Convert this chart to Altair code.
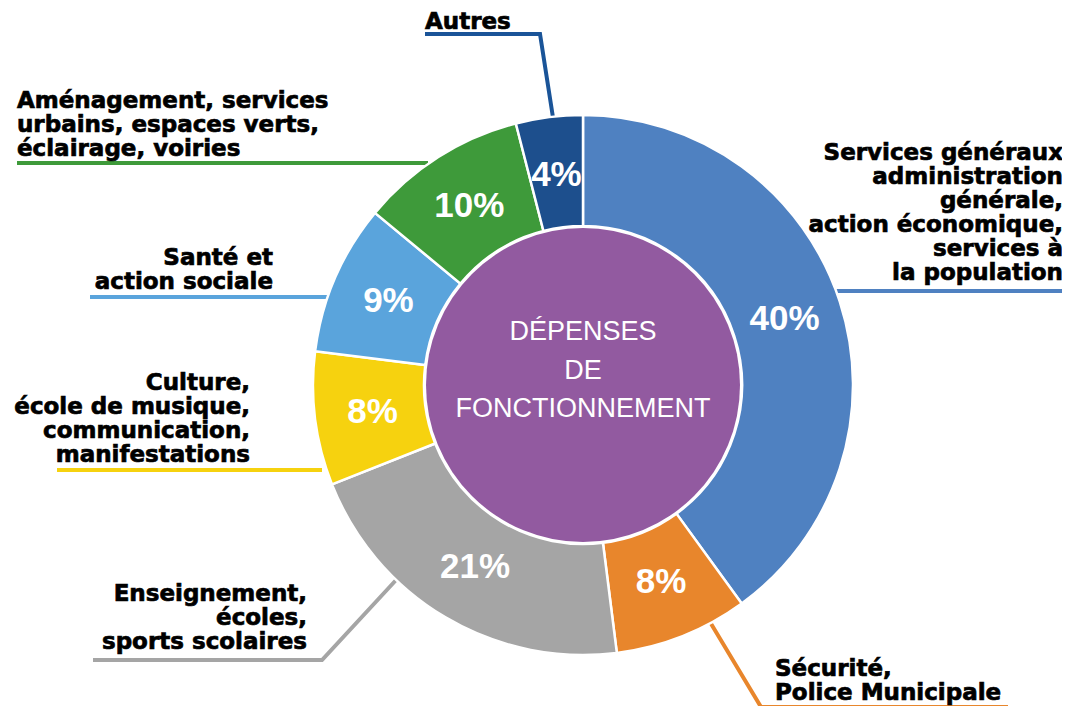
import altair as alt
import pandas as pd

# ---------------- data ----------------
categories = [
    "Services généraux",
    "Sécurité",
    "Enseignement",
    "Culture",
    "Santé",
    "Aménagement",
    "Autres",
]
values = [40, 8, 21, 8, 9, 10, 4]
pct_labels = ["40%", "8%", "21%", "8%", "9%", "10%", "4%"]
label_lines = [
    ["Services généraux", "administration", "générale,", "action économique,", "services à", "la population"],
    ["Sécurité,", "Police Municipale"],
    ["Enseignement,", "écoles,", "sports scolaires"],
    ["Culture,", "école de musique,", "communication,", "manifestations"],
    ["Santé et", "action sociale"],
    ["Aménagement, services", "urbains, espaces verts,", "éclairage, voiries"],
    ["Autres"],
]
center_title = ["DÉPENSES", "DE", "FONCTIONNEMENT"]

# ---------------- styles / layout ----------------
colors = ["#4f81c1", "#e8862c", "#a5a5a5", "#f6d20f", "#5aa4dc", "#3e9a3a", "#1d4f8d"]
line_colors = ["#4f81c1", "#e8862c", "#a5a5a5", "#f6d20f", "#5aa4dc", "#3e9a3a", "#1a5498"]
purple = "#925aa0"
M = 8  # page margin
CX, CY = 583 - M, 385 - M
R_OUT, R_IN, R_CENTER, R_TEXT = 270, 159, 157, 212
LABEL_FONT = "DejaVu Sans"
NUM_FONT = "Liberation Sans"

# label anchor (page coords): x, first-line center y, align
label_anchor = [
    (1063, 153, "right"),
    (775, 669, "left"),
    (307, 594, "right"),
    (250, 383, "right"),
    (273, 258, "right"),
    (17, 101, "left"),
    (425, 22, "left"),
]
leader_points = [
    [(835, 291), (1066, 291)],
    [(710, 622), (761, 707), (1008, 707)],
    [(93, 660), (322, 660), (397, 579)],
    [(57, 470), (322, 470)],
    [(90, 297), (332, 297)],
    [(17, 163), (428, 163)],
    [(425, 34), (540, 34), (554, 124)],
]

# ---------------- tables ----------------
df = pd.DataFrame({
    "cat": categories,
    "value": values,
    "pct": pct_labels,
    "color": colors,
    "order": list(range(len(categories))),
})

line_rows = []
for k, (cat, pts) in enumerate(zip(categories, leader_points)):
    for i, (x, y) in enumerate(pts):
        line_rows.append({"cat": cat, "i": i, "x": x - M, "y": y - M, "color": line_colors[k]})
lines_df = pd.DataFrame(line_rows)

lab_rows = []
for cat, lines, (x, y, al) in zip(categories, label_lines, label_anchor):
    lab_rows.append({"cat": cat, "text": lines, "x": x - M, "y": y - M, "align": al})
lab_df = pd.DataFrame(lab_rows)

# ---------------- layers ----------------
leaders = alt.Chart(lines_df).mark_line(strokeWidth=4, strokeJoin="miter").encode(
    x=alt.X("x:Q", scale=None, axis=None),
    y=alt.Y("y:Q", scale=None, axis=None),
    detail="cat:N",
    order="i:Q",
    color=alt.Color("color:N", scale=None),
)

base = alt.Chart(df).encode(
    theta=alt.Theta("value:Q", stack=True),
    order=alt.Order("order:Q"),
    x=alt.value(CX),
    y=alt.value(CY),
)

ring = base.mark_arc(innerRadius=R_IN, outerRadius=R_OUT, stroke="white", strokeWidth=2.5).encode(
    color=alt.Color("color:N", scale=None)
)

pct = base.mark_text(
    radius=R_TEXT, font=NUM_FONT, fontSize=35, fontWeight="bold", color="white"
).encode(text="pct:N")

center = alt.Chart(pd.DataFrame({"v": [1]})).mark_arc(
    theta=0, theta2=6.2832, outerRadius=R_CENTER, innerRadius=0, color=purple
).encode(x=alt.value(CX), y=alt.value(CY))

center_text = alt.Chart(pd.DataFrame({"t": [center_title]})).mark_text(
    font=NUM_FONT, fontSize=27, color="white", lineHeight=38.5, baseline="middle", align="center"
).encode(x=alt.value(CX), y=alt.value(332 - M), text="t")

def label_layer(al):
    return alt.Chart(lab_df[lab_df["align"] == al]).mark_text(
        font=LABEL_FONT, fontSize=23, fontWeight="bold", color="black",
        stroke="black", strokeWidth=0.7,
        lineHeight=24, baseline="middle", align=al,
    ).encode(
        x=alt.X("x:Q", scale=None, axis=None),
        y=alt.Y("y:Q", scale=None, axis=None),
        text="text",
    )

chart = alt.layer(
    leaders, ring, center, pct, center_text, label_layer("left"), label_layer("right")
).properties(
    width=1054, height=698, autosize="none", padding=0
).configure_view(stroke=None).resolve_scale(theta="independent")

chart.save("out.html", embed_options={"renderer": "svg", "actions": False})
